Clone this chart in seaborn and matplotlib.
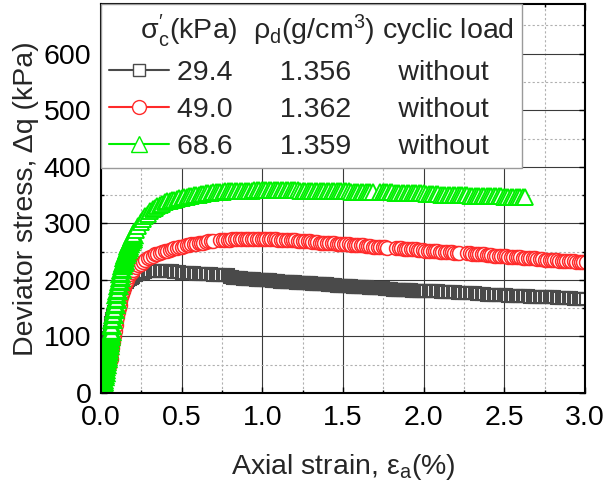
import matplotlib
matplotlib.use("Agg")
import matplotlib.pyplot as plt
import seaborn as sns
import pandas as pd
from matplotlib.lines import Line2D
from matplotlib.ticker import MultipleLocator, FormatStrFormatter

# ---------------- data ----------------
gray_strain = [
    0.000, 0.005, 0.010, 0.015, 0.020, 0.025, 0.030, 0.035, 0.040, 0.045,
    0.050, 0.055, 0.060, 0.065, 0.070, 0.075, 0.080, 0.085, 0.090, 0.095,
    0.100, 0.110, 0.120, 0.130, 0.140, 0.150, 0.160, 0.170, 0.180, 0.190,
    0.200, 0.215, 0.230, 0.245, 0.260, 0.275, 0.290, 0.305, 0.320, 0.335,
    0.350, 0.365, 0.380, 0.395, 0.410, 0.425, 0.440, 0.455, 0.470, 0.485,
    0.500, 0.515, 0.530, 0.545, 0.560, 0.575, 0.590, 0.605, 0.620, 0.635,
    0.650, 0.665, 0.680, 0.695, 0.710, 0.725, 0.740, 0.755, 0.770, 0.785,
    0.80, 0.81, 0.82, 0.83, 0.84, 0.85, 0.86, 0.87, 0.88, 0.89,
    0.90, 0.91, 0.92, 0.93, 0.94, 0.95, 0.96, 0.97, 0.98, 0.99,
    1.00, 1.01, 1.02, 1.03, 1.04, 1.05, 1.06, 1.07, 1.08, 1.09,
    1.10, 1.11, 1.12, 1.13, 1.14, 1.15, 1.16, 1.17, 1.18, 1.19,
    1.20, 1.21, 1.22, 1.23, 1.24, 1.25, 1.26, 1.27, 1.28, 1.29,
    1.30, 1.31, 1.32, 1.33, 1.34, 1.35, 1.36, 1.37, 1.38, 1.39,
    1.40, 1.41, 1.42, 1.43, 1.44, 1.45, 1.46, 1.47, 1.48, 1.49,
    1.50, 1.51, 1.52, 1.53, 1.54, 1.55, 1.56, 1.57, 1.58, 1.59,
    1.60, 1.61, 1.62, 1.63, 1.64, 1.65, 1.66, 1.67, 1.68, 1.69,
    1.70, 1.71, 1.72, 1.73, 1.74, 1.75, 1.76, 1.77, 1.78, 1.79,
    1.80, 1.81, 1.82, 1.83, 1.84, 1.85, 1.86, 1.87, 1.88, 1.89,
    1.90, 1.91, 1.92, 1.93, 1.94, 1.95, 1.96, 1.97, 1.98, 1.99,
    2.000, 2.015, 2.030, 2.045, 2.060, 2.075, 2.090, 2.105, 2.120, 2.135,
    2.150, 2.165, 2.180, 2.195, 2.210, 2.225, 2.240, 2.255, 2.270, 2.285,
    2.300, 2.315, 2.330, 2.345, 2.360, 2.375, 2.390, 2.405, 2.420, 2.435,
    2.450, 2.465, 2.480, 2.495, 2.510, 2.525, 2.540, 2.555, 2.570, 2.585,
    2.600, 2.615, 2.630, 2.645, 2.660, 2.675, 2.690, 2.705, 2.720, 2.735,
    2.750, 2.765, 2.780, 2.795, 2.810, 2.825, 2.840, 2.855, 2.870, 2.885,
    2.900, 2.915, 2.930, 2.945, 2.960, 2.975, 2.990, 3.005]
gray_stress = [
    0, 10, 20, 30, 40, 50, 60, 70, 80, 89,
    98, 107, 115, 123, 130, 137, 143, 149, 154, 158,
    162, 170, 177, 183, 188, 192, 196, 199, 202, 204,
    206, 208, 210, 212, 213, 214, 215, 216, 216, 216,
    216, 216, 216, 216, 215, 215, 215, 214, 214, 214,
    213, 213, 213, 212, 212, 212, 211, 211, 211, 210,
    210, 210, 210, 209, 209, 209, 208, 208, 208, 208,
    205, 205, 204, 204, 204, 203, 203, 203, 202, 202,
    202, 202, 201, 201, 201, 201, 200, 200, 200, 200,
    200, 199, 199, 199, 199, 199, 198, 198, 198, 198,
    198, 197, 197, 197, 197, 197, 196, 196, 196, 196,
    196, 195, 195, 195, 195, 195, 194, 194, 194, 194,
    194, 193, 193, 193, 193, 193, 192, 192, 192, 192,
    192, 191, 191, 191, 191, 191, 190, 190, 190, 190,
    190, 189, 189, 189, 189, 189, 188, 188, 188, 188,
    188, 187, 187, 187, 187, 187, 186, 186, 186, 186,
    186, 185, 185, 185, 185, 185, 184, 184, 184, 184,
    184, 183, 183, 183, 183, 183, 182, 182, 182, 182,
    182, 182, 182, 181, 181, 181, 181, 181, 181, 181,
    181, 181, 181, 180, 180, 180, 180, 179, 179, 179,
    178, 178, 178, 178, 177, 177, 177, 177, 176, 176,
    176, 176, 175, 175, 175, 175, 174, 174, 174, 174,
    174, 173, 173, 173, 173, 172, 172, 172, 172, 171,
    171, 171, 171, 171, 170, 170, 170, 170, 170, 169,
    169, 169, 169, 169, 169, 168, 168, 168, 168, 168,
    168, 168, 167, 167, 167, 167, 167, 167]

red_strain = [
    0.000, 0.010, 0.020, 0.030, 0.040, 0.050, 0.060, 0.065, 0.070, 0.075,
    0.080, 0.085, 0.090, 0.095, 0.100, 0.105, 0.110, 0.115, 0.120, 0.125,
    0.130, 0.135, 0.140, 0.145, 0.150, 0.155, 0.160, 0.170, 0.180, 0.190,
    0.200, 0.215, 0.230, 0.245, 0.260, 0.275, 0.290, 0.305, 0.320, 0.335,
    0.350, 0.365, 0.380, 0.395, 0.410, 0.425, 0.440, 0.455, 0.470, 0.485,
    0.500, 0.515, 0.530, 0.545, 0.560, 0.575, 0.590, 0.605, 0.620, 0.635,
    0.650, 0.665, 0.680, 0.695, 0.740, 0.755, 0.770, 0.785, 0.800, 0.815,
    0.830, 0.845, 0.860, 0.875, 0.890, 0.905, 0.920, 0.935, 0.950, 0.965,
    0.980, 0.995, 1.010, 1.025, 1.040, 1.055, 1.070, 1.085, 1.100, 1.115,
    1.130, 1.145, 1.160, 1.175, 1.190, 1.205, 1.220, 1.235, 1.250, 1.265,
    1.280, 1.295, 1.310, 1.325, 1.340, 1.355, 1.370, 1.385, 1.400, 1.415,
    1.430, 1.445, 1.460, 1.475, 1.490, 1.505, 1.520, 1.535, 1.550, 1.565,
    1.580, 1.595, 1.610, 1.625, 1.640, 1.655, 1.670, 1.685, 1.700, 1.715,
    1.730, 1.745, 1.760, 1.775, 1.830, 1.845, 1.860, 1.875, 1.890, 1.905,
    1.920, 1.935, 1.950, 1.965, 1.980, 1.995, 2.010, 2.025, 2.040, 2.055,
    2.070, 2.085, 2.100, 2.115, 2.130, 2.145, 2.160, 2.175, 2.190, 2.205,
    2.220, 2.270, 2.285, 2.300, 2.315, 2.330, 2.345, 2.360, 2.375, 2.390,
    2.405, 2.420, 2.435, 2.450, 2.465, 2.480, 2.495, 2.510, 2.525, 2.540,
    2.555, 2.570, 2.585, 2.600, 2.615, 2.630, 2.645, 2.660, 2.675, 2.690,
    2.705, 2.720, 2.735, 2.750, 2.765, 2.780, 2.795, 2.810, 2.825, 2.840,
    2.855, 2.870, 2.885, 2.900, 2.915, 2.930, 2.945, 2.960, 2.975, 2.990,
    3.005]
red_stress = [
    0, 6, 15, 25, 35, 47, 60, 70, 80, 90,
    100, 110, 120, 128, 135, 143, 150, 156, 162, 169,
    175, 180, 185, 189, 193, 197, 200, 205, 210, 214,
    218, 222, 226, 229, 232, 235, 238, 240, 243, 245,
    246, 248, 249, 251, 252, 253, 255, 256, 257, 258,
    259, 260, 261, 262, 263, 263, 264, 265, 266, 266,
    267, 268, 268, 269, 270, 270, 271, 271, 271, 272,
    272, 272, 272, 273, 273, 273, 273, 273, 273, 273,
    273, 273, 273, 272, 272, 272, 272, 272, 271, 271,
    271, 271, 270, 270, 270, 270, 269, 269, 269, 268,
    268, 268, 267, 267, 267, 266, 266, 266, 265, 265,
    265, 265, 264, 264, 264, 263, 263, 263, 262, 262,
    262, 261, 261, 261, 260, 260, 260, 259, 259, 259,
    258, 258, 258, 257, 256, 256, 256, 255, 255, 255,
    254, 254, 254, 253, 253, 253, 252, 252, 252, 251,
    251, 251, 250, 250, 250, 249, 249, 249, 248, 248,
    248, 247, 247, 246, 246, 246, 245, 245, 245, 244,
    244, 244, 243, 243, 243, 242, 242, 242, 241, 241,
    241, 240, 240, 240, 239, 239, 239, 238, 238, 238,
    237, 237, 237, 236, 236, 236, 235, 235, 235, 234,
    234, 234, 233, 233, 233, 233, 232, 232, 232, 232,
    231]

green_strain = [
    0.0000, 0.0025, 0.0050, 0.0075, 0.0100, 0.0125, 0.0150, 0.0175, 0.0200, 0.0225,
    0.0250, 0.0275, 0.0300, 0.0325, 0.0350, 0.0375, 0.0400, 0.0425, 0.0450, 0.0475,
    0.0500, 0.0525, 0.0550, 0.0575, 0.0600, 0.0650, 0.0700, 0.0750, 0.0800, 0.0850,
    0.090, 0.095, 0.100, 0.105, 0.110, 0.115, 0.120, 0.125, 0.130, 0.135,
    0.140, 0.145, 0.150, 0.155, 0.160, 0.165, 0.170, 0.175, 0.180, 0.185,
    0.190, 0.195, 0.200, 0.215, 0.230, 0.245, 0.260, 0.275, 0.290, 0.305,
    0.320, 0.335, 0.350, 0.365, 0.380, 0.395, 0.410, 0.425, 0.440, 0.455,
    0.470, 0.485, 0.500, 0.515, 0.530, 0.545, 0.560, 0.575, 0.590, 0.605,
    0.620, 0.635, 0.650, 0.665, 0.680, 0.695, 0.710, 0.725, 0.740, 0.755,
    0.770, 0.785, 0.800, 0.815, 0.830, 0.845, 0.860, 0.875, 0.890, 0.905,
    0.920, 0.935, 0.950, 0.965, 0.980, 0.995, 1.010, 1.025, 1.040, 1.055,
    1.070, 1.085, 1.100, 1.115, 1.130, 1.145, 1.160, 1.175, 1.190, 1.205,
    1.220, 1.235, 1.250, 1.265, 1.280, 1.295, 1.310, 1.325, 1.340, 1.355,
    1.370, 1.385, 1.400, 1.415, 1.430, 1.445, 1.460, 1.475, 1.490, 1.505,
    1.520, 1.535, 1.550, 1.565, 1.580, 1.595, 1.610, 1.625, 1.640, 1.655,
    1.670, 1.685, 1.730, 1.745, 1.760, 1.775, 1.790, 1.805, 1.820, 1.835,
    1.850, 1.865, 1.880, 1.895, 1.910, 1.925, 1.940, 1.955, 1.970, 1.985,
    2.000, 2.015, 2.030, 2.045, 2.060, 2.075, 2.090, 2.105, 2.120, 2.135,
    2.150, 2.165, 2.180, 2.195, 2.210, 2.225, 2.240, 2.255, 2.270, 2.285,
    2.300, 2.315, 2.330, 2.345, 2.360, 2.375, 2.390, 2.405, 2.420, 2.435,
    2.450, 2.465, 2.480, 2.495, 2.510, 2.525, 2.540, 2.555, 2.570, 2.585,
    2.600, 2.615, 2.630]
green_stress = [
    0, 4, 8, 12, 17, 21, 25, 30, 34, 38,
    43, 47, 52, 56, 61, 65, 70, 75, 80, 85,
    90, 95, 100, 105, 110, 120, 130, 140, 149, 158,
    167, 175, 183, 191, 198, 205, 212, 219, 226, 231,
    236, 241, 245, 250, 254, 258, 262, 266, 269, 272,
    275, 278, 281, 289, 296, 302, 308, 313, 317, 321,
    325, 328, 331, 333, 335, 337, 339, 340, 341, 342,
    343, 344, 345, 346, 347, 348, 349, 350, 350, 351,
    352, 352, 353, 354, 354, 355, 355, 356, 356, 356,
    357, 357, 357, 357, 357, 358, 358, 358, 358, 358,
    358, 358, 359, 359, 359, 359, 359, 359, 359, 359,
    359, 359, 359, 359, 359, 359, 359, 359, 359, 359,
    359, 358, 358, 358, 358, 358, 358, 358, 358, 358,
    358, 358, 357, 357, 357, 357, 357, 357, 357, 357,
    357, 357, 356, 356, 356, 356, 356, 356, 356, 356,
    356, 356, 355, 355, 355, 355, 355, 355, 354, 354,
    354, 354, 354, 354, 353, 353, 353, 353, 353, 353,
    353, 352, 352, 352, 352, 352, 352, 351, 351, 351,
    351, 351, 351, 350, 350, 350, 350, 350, 350, 349,
    349, 349, 349, 349, 349, 348, 348, 348, 348, 348,
    348, 348, 348, 347, 347, 347, 347, 347, 347, 347,
    346, 346, 346]

confining = ["29.4", "49.0", "68.6"]
density = ["1.356", "1.362", "1.359"]
cyclic = ["without", "without", "without"]

# ---------------- style ----------------
sns.set_style("ticks")
plt.rcParams['font.family'] = ['Liberation Sans', 'DejaVu Sans']
plt.rcParams['mathtext.fontset'] = 'custom'
plt.rcParams['mathtext.rm'] = 'Liberation Sans'
plt.rcParams['mathtext.it'] = 'Liberation Sans:italic'
plt.rcParams['mathtext.bf'] = 'Liberation Sans:bold'

FS = 20.5
colors = ["#4a4a4a", "#ff2a2a", "#00f000"]
markers = ["s", "o", "^"]
msizes = [8.6, 10.0, 11.0]
edgew = [1.5, 1.1, 1.35]

fig = plt.figure(figsize=(6.07, 4.88), dpi=100)
ax = fig.add_axes([0.1664, 0.1947, 0.9638 - 0.1664, 0.9918 - 0.1947])

series = [(gray_strain, gray_stress), (red_strain, red_stress), (green_strain, green_stress)]
for i, (xs, ys) in enumerate(series):
    df = pd.DataFrame({"strain": xs, "stress": ys})
    if i == 2:
        # steep loading branch: markers crowd into a solid wedge, so draw it with heavier edges
        parts = [(df[df.strain <= 0.2], 2.4), (df[df.strain > 0.2], edgew[i])]
    else:
        parts = [(df, edgew[i])]
    for part, ew in parts:
        sns.lineplot(data=part, x="strain", y="stress", ax=ax, estimator=None, sort=False,
                     linestyle="none", marker=markers[i], markersize=msizes[i],
                     markerfacecolor="white", markeredgecolor=colors[i], markeredgewidth=ew,
                     color=colors[i], legend=False, zorder=3 + i)

ax.set_xlim(0, 3.0)
ax.set_ylim(0, 688)
ax.xaxis.set_major_locator(MultipleLocator(0.5))
ax.xaxis.set_minor_locator(MultipleLocator(0.25))
ax.yaxis.set_major_locator(MultipleLocator(100))
ax.yaxis.set_minor_locator(MultipleLocator(50))
ax.xaxis.set_major_formatter(FormatStrFormatter('%.1f'))

ax.set_axisbelow(True)
ax.grid(which='major', color='#3a3a3a', lw=0.8, ls='-')
ax.grid(which='minor', color='#b0b0b0', lw=0.8, ls=(0, (2, 2)))

for sp in ax.spines.values():
    sp.set_linewidth(1.5)
    sp.set_color('black')
    sp.set_zorder(10)

ax.tick_params(which='both', direction='in', top=True, right=True, width=1.0, colors='black')
ax.tick_params(which='major', length=4.5)
ax.tick_params(which='minor', length=2.5)
ax.tick_params(axis='x', labelsize=FS, pad=8.5)
ax.tick_params(axis='y', labelsize=FS, pad=7)

ax.set_xlabel("Axial strain, ε$_\\mathrm{a}$(%)", fontsize=FS, labelpad=15.5)
ax.set_ylabel("Deviator stress, Δq (kPa)", fontsize=FS, labelpad=3)

handles = []
labels = []
for i in range(3):
    handles.append(Line2D([], [], color=colors[i], lw=1.5, marker=markers[i],
                          markersize=msizes[i], markerfacecolor='white',
                          markeredgecolor=colors[i], markeredgewidth=1.0))
    labels.append(f"{confining[i]}      {density[i]}      {cyclic[i]}")

header = "    σ$^{\\prime}_\\mathrm{c}$(kPa)  ρ$_\\mathrm{d}$(g/cm$^3$) cyclic load"
leg = ax.legend(handles, labels, title=header, loc='upper left', bbox_to_anchor=(0, 1),
                borderaxespad=0, frameon=True, fancybox=False, framealpha=1,
                edgecolor='#9a9a9a', fontsize=FS, title_fontsize=FS, handlelength=2.1,
                handletextpad=0.3, labelspacing=0.39, borderpad=0.28, alignment='left')
leg.get_frame().set_linewidth(1.0)
leg.set_zorder(20)

fig.savefig("out.png", dpi=100)
